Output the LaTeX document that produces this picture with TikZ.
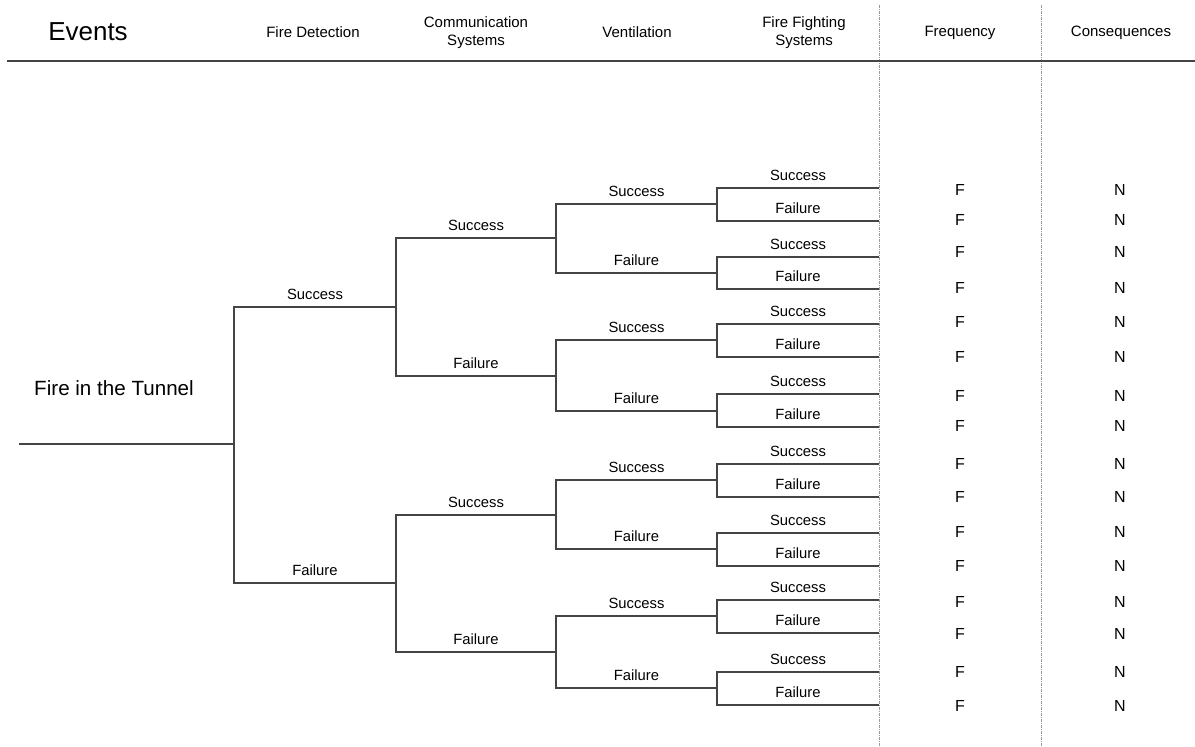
\documentclass[tikz,border=0pt]{standalone}
\usepackage{fontspec}
\setmainfont{Liberation Sans}
\begin{document}
\begin{tikzpicture}[x=1pt,y=-1pt,
  branch/.style={draw=treegray,line width=1.8pt},
  lbl/.style={font=\fontsize{14.8}{18}\selectfont,inner sep=0pt,yshift=13pt},
  head/.style={font=\fontsize{15}{18}\selectfont,align=center,inner sep=0pt},
  fn/.style={font=\fontsize{16}{19}\selectfont,inner sep=0pt},
  sep/.style={draw=sepgray,line width=0.9pt,dash pattern=on 3pt off 1pt on 1pt off 1pt}]
\definecolor{treegray}{HTML}{444444}
\definecolor{sepgray}{HTML}{9A9A9A}
\useasboundingbox[fill=white] (0,0) rectangle (1195,747);

% column separators
\coordinate (d1t) at (879,5);   \coordinate (d1b) at (879,747);
\coordinate (d2t) at (1041,5);  \coordinate (d2b) at (1041,747);
\draw[sep] (d1t) -- (d1b);
\draw[sep] (d2t) -- (d2b);

% header row
\node[font=\fontsize{26}{30}\selectfont,inner sep=0pt] (hev) at (88,32) {Events};
\node[head] (hfd) at (313,32) {Fire Detection};
\node[head] (hcs) at (476,33) {Communication\\Systems};
\node[head] (hve) at (637,32) {Ventilation};
\node[head] (hff) at (804,33) {Fire Fighting\\Systems};
\node[head] (hfr) at (960,33) {Frequency};
\node[head] (hco) at (1121,33) {Consequences};
\coordinate (hl) at (7,61); \coordinate (hr) at (1195,61);
\draw[draw=treegray,line width=2.8pt] (hl) -- (hr);

% initiating event
\node[font=\fontsize{20.6}{24}\selectfont,inner sep=0pt] (init) at (114,388) {Fire in the Tunnel};
\coordinate (root) at (19,444);
\coordinate (rootj) at (234,444);
\draw[branch] (root) -- (rootj);

% one success/failure fork: name, parent x, child x, upper y, lower y
\newcommand{\evfork}[5]{%
  \coordinate (#1-su) at (#2,#4);
  \coordinate (#1-se) at (#3,#4);
  \coordinate (#1-fu) at (#2,#5);
  \coordinate (#1-fe) at (#3,#5);
  \draw[branch] (#1-se) -- (#1-su) -- (#1-fu) -- (#1-fe);
  \path (#1-su) -- node[lbl] (#1-sl) {Success} (#1-se);
  \path (#1-fu) -- node[lbl] (#1-fl) {Failure} (#1-fe);
}

% fire detection
\evfork{a}{234}{396}{307}{583}
% communication systems
\evfork{b1}{396}{556}{238}{376}
\evfork{b2}{396}{556}{515}{652}
% ventilation
\evfork{c1}{556}{717}{204}{273}
\evfork{c2}{556}{717}{340}{411}
\evfork{c3}{556}{717}{480}{549}
\evfork{c4}{556}{717}{616}{688}
% fire fighting systems
\evfork{d1}{717}{879}{188}{221}
\evfork{d2}{717}{879}{257}{289}
\evfork{d3}{717}{879}{324}{357}
\evfork{d4}{717}{879}{394}{427}
\evfork{d5}{717}{879}{464}{497}
\evfork{d6}{717}{879}{533}{566}
\evfork{d7}{717}{879}{600}{633}
\evfork{d8}{717}{879}{672}{705}

% frequency and consequence entries
\foreach \y [count=\i] in {190,220,252,288,322,357,396,426,464,497,532,566,602,634,672,706}{
  \node[fn] (f\i) at (960,\y) {F};
  \node[fn] (n\i) at (1120,\y) {N};
}
\end{tikzpicture}
\end{document}
